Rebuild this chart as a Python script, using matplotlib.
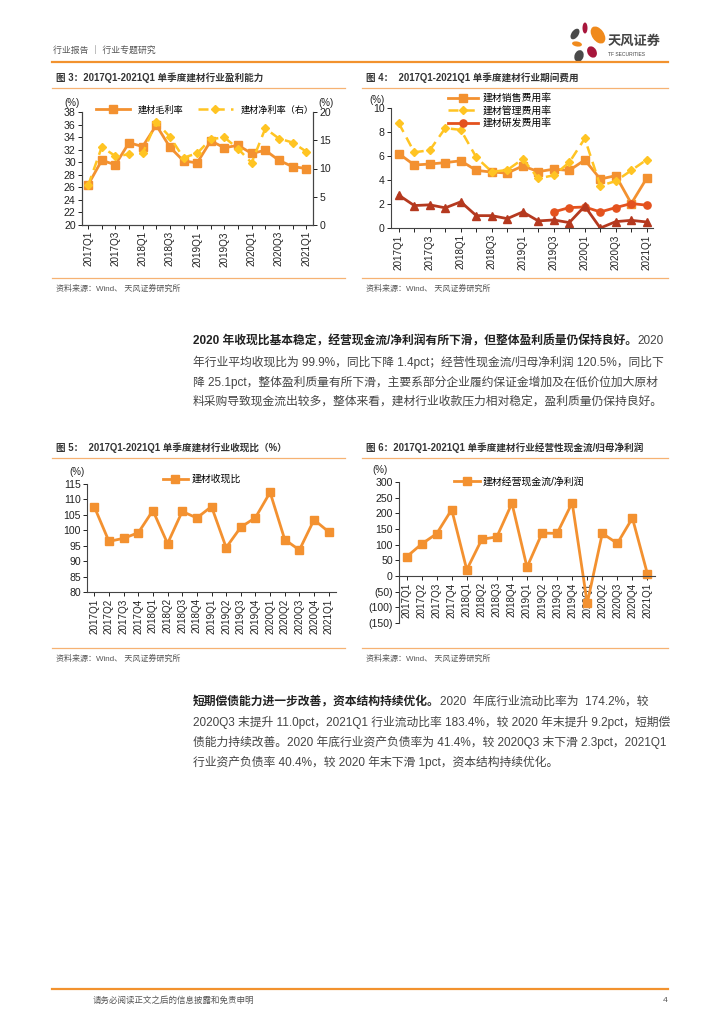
import numpy as np
import matplotlib
matplotlib.use("Agg")
import matplotlib.pyplot as plt
from matplotlib.patches import Ellipse
from matplotlib.ticker import FuncFormatter

plt.rcParams['font.family'] = ['Liberation Sans', 'Noto Sans CJK SC', 'DejaVu Sans']

W, H = 724, 1024

# ---- data ----
quarters = ['2017Q1', '2017Q2', '2017Q3', '2017Q4', '2018Q1', '2018Q2', '2018Q3', '2018Q4',
            '2019Q1', '2019Q2', '2019Q3', '2019Q4', '2020Q1', '2020Q2', '2020Q3', '2020Q4', '2021Q1']

gross_margin = [26.4, 30.3, 29.6, 33.1, 32.5, 35.9, 32.4, 30.2, 29.9, 33.4, 32.3, 32.7,
                31.4, 31.9, 30.3, 29.3, 29.0]
net_margin = [7.0, 13.8, 12.2, 12.5, 12.7, 18.2, 15.6, 11.9, 12.7, 15.2, 15.5, 13.5,
              11.0, 17.1, 15.3, 14.6, 13.0]

sales_exp = [6.2, 5.25, 5.33, 5.45, 5.6, 4.8, 4.66, 4.58, 5.17, 4.7, 4.9, 4.8,
             5.67, 4.08, 4.36, 2.04, 4.16]
admin_exp = [8.74, 6.31, 6.48, 8.32, 8.18, 5.89, 4.69, 4.83, 5.75, 4.13, 4.39, 5.47,
             7.46, 3.52, 3.91, 4.8, 5.7]
rd_exp = [np.nan] * 10 + [1.34, 1.7, 1.75, 1.34, 1.7, 2.04, 1.9]
fin_exp = [2.74, 1.87, 1.93, 1.68, 2.18, 1.03, 1.03, 0.78, 1.34, 0.59, 0.67, 0.45,
           1.82, 0.0, 0.53, 0.64, 0.5]

cash_ratio = [107.6, 96.4, 97.4, 99.2, 106.4, 95.7, 106.1, 104.0, 107.7, 94.4, 101.0, 104.1,
              112.3, 97.0, 93.6, 103.4, 99.5]
ocf_ratio = [61, 102, 135, 212, 20, 117, 125, 232, 28, 137, 136, 234,
             -87, 136, 104, 185, 6]

ORANGE = '#F39130'
GOLD = '#FFC423'
RED = '#E4521E'
DARKRED = '#B5391F'
RULE = '#F2922E'
TXT = '#333333'

fig = plt.figure(figsize=(W / 100, H / 100), dpi=100)

# page overlay in pixel coords
bg = fig.add_axes([0, 0, 1, 1])
bg.set_xlim(0, W)
bg.set_ylim(H, 0)
bg.axis('off')


def add_ax(l, t, r, b):
    return fig.add_axes([l / W, 1 - b / H, (r - l) / W, (b - t) / H])


def style(ax, spines=('left', 'bottom')):
    for s in ['left', 'right', 'top', 'bottom']:
        ax.spines[s].set_visible(s in spines)
        ax.spines[s].set_color('#444444')
        ax.spines[s].set_linewidth(0.8)
    ax.tick_params(labelsize=7.6, length=3, width=0.7, colors='#222222', pad=1.5)
    ax.patch.set_alpha(0)


def xlabels(ax, every):
    ax.set_xticks(range(len(quarters)))
    ax.set_xticklabels([q if i % every == 0 else '' for i, q in enumerate(quarters)],
                       rotation=90, fontsize=7.1)


# ---- header ----
bg.text(53, 51, '行业报告 ｜ 行业专题研究', fontsize=6.4, color='#555555', va='center')
bg.plot([52, 668], [61.5, 61.5], color=RULE, lw=1.6)
# logo petals
for (cx, cy, w, h, a, c) in [(585, 28, 5, 11, 0, '#A8163C'), (598, 35, 12, 19, -35, '#F08A1C'),
                             (575, 34, 7, 12, 35, '#4A4A4A'), (577, 44, 10, 5, 10, '#F08A1C'),
                             (592, 52, 9, 12, -30, '#A8163C'), (579, 56, 9, 12, 20, '#4A4A4A')]:
    bg.add_patch(Ellipse((cx, cy), w, h, angle=a, color=c, lw=0))
bg.text(608, 42, '天风证券', fontsize=9.5, color='#444444', va='center', fontweight='bold')
bg.text(608, 55, 'TF SECURITIES', fontsize=3.6, color='#444444', va='center')

# ---- chart titles, rules, sources ----
for x0, x1, ty, title in [(52, 345, 78, '图 3：2017Q1-2021Q1 单季度建材行业盈利能力'),
                          (362, 668, 78, '图 4：  2017Q1-2021Q1 单季度建材行业期间费用'),
                          (52, 345, 448, '图 5：  2017Q1-2021Q1 单季度建材行业收现比（%）'),
                          (362, 668, 448, '图 6：2017Q1-2021Q1 单季度建材行业经营性现金流/归母净利润')]:
    bg.text(x0 + 4, ty, title, fontsize=6.9, color=TXT, fontweight='bold', va='center')
    bg.plot([x0, x1], [ty + 10, ty + 10], color='#F6B273', lw=0.9)
    bb = ty + 200
    bg.plot([x0, x1], [bb, bb], color='#F6B273', lw=0.9)
    bg.text(x0 + 4, bb + 11, '资料来源：Wind、 天风证券研究所', fontsize=5.8, color='#555555', va='center')

# ---- chart 1 ----
ax1 = add_ax(82, 112, 313, 225)
style(ax1, ('left', 'bottom', 'right'))
ax1r = ax1.twinx()
style(ax1r, ('left', 'bottom', 'right'))
x = np.arange(len(quarters))
ax1.plot(x, gross_margin, color=ORANGE, lw=2, marker='s', ms=5.8, label='建材毛利率')
ax1r.plot(x, net_margin, color=GOLD, lw=1.8, ls=(0, (4, 2.5)), marker='D', ms=4.2, label='建材净利率（右）')
ax1.set_ylim(20, 38)
ax1.set_yticks(range(20, 39, 2))
ax1r.set_ylim(0, 20)
ax1r.set_yticks(range(0, 21, 5))
ax1.set_xlim(-0.45, 16.5)
xlabels(ax1, 2)
h1, l1 = ax1.get_legend_handles_labels()
h2, l2 = ax1r.get_legend_handles_labels()
ax1r.legend(h1 + h2, l1 + l2, loc='center', bbox_to_anchor=(0.53, 1.02), ncol=2, frameon=False,
            fontsize=6.6, handlelength=3.8, columnspacing=1.6, borderpad=0)
bg.text(64, 103, '(%)', fontsize=7, color='#222222', va='center')
bg.text(318, 103, '(%)', fontsize=7, color='#222222', va='center')

# ---- chart 2 ----
ax2 = add_ax(391, 108, 653, 228)
style(ax2)
ax2.plot(x, sales_exp, color=ORANGE, lw=2, marker='s', ms=5.8, label='建材销售费用率')
ax2.plot(x, admin_exp, color=GOLD, lw=1.8, ls=(0, (4, 2.5)), marker='D', ms=4.2, label='建材管理费用率')
ax2.plot(x, rd_exp, color=RED, lw=2, marker='o', ms=5.2, label='建材研发费用率')
ax2.plot(x, fin_exp, color=DARKRED, lw=2, marker='^', ms=5.2, label='_nolegend_')
ax2.set_ylim(0, 10)
ax2.set_yticks(range(0, 11, 2))
ax2.set_xlim(-0.5, 16.4)
xlabels(ax2, 2)
ax2.legend(loc='upper left', bbox_to_anchor=(0.2, 1.165), frameon=False, fontsize=7.1,
           handlelength=3.0, labelspacing=0.25, borderpad=0, handletextpad=0.5)
bg.text(369, 100, '(%)', fontsize=7, color='#222222', va='center')

# ---- paragraph 1 ----
renderer = fig.canvas.get_renderer()


def para_line(y, bold, rest):
    xpos = 193
    if bold:
        t = bg.text(xpos, y, bold, fontsize=8.5, color='#222222', fontweight='bold', va='center')
        ext = t.get_window_extent(renderer)
        xpos += ext.width
    bg.text(xpos, y, rest, fontsize=8.5, color='#444444', va='center')


para_line(341, '2020 年收现比基本稳定，经营现金流/净利润有所下滑，但整体盈利质量仍保持良好。', '2020')
para_line(362, '', '年行业平均收现比为 99.9%，同比下降 1.4pct；经营性现金流/归母净利润 120.5%，同比下')
para_line(382, '', '降 25.1pct，整体盈利质量有所下滑，主要系部分企业履约保证金增加及在低价位加大原材')
para_line(402, '', '料采购导致现金流出较多，整体来看，建材行业收款压力相对稳定，盈利质量仍保持良好。')

# ---- chart 3 ----
ax3 = add_ax(87, 484, 336, 592)
style(ax3)
ax3.plot(x, cash_ratio, color=ORANGE, lw=2, marker='s', ms=6.2, label='建材收现比')
ax3.set_ylim(80, 115)
ax3.set_yticks(range(80, 116, 5))
ax3.set_xlim(-0.5, 16.5)
xlabels(ax3, 1)
ax3.legend(loc='center', bbox_to_anchor=(0.46, 1.045), frameon=False, fontsize=7.1,
           handlelength=2.6, borderpad=0, handletextpad=0.3)
bg.text(69, 472, '(%)', fontsize=7, color='#222222', va='center')

# ---- chart 4 ----
ax4 = add_ax(399, 482, 655, 623)
style(ax4)
ax4.spines['bottom'].set_position(('data', 0))
ax4.plot(x, ocf_ratio, color=ORANGE, lw=2, marker='s', ms=6.2, label='建材经营现金流/净利润')
ax4.set_ylim(-150, 300)
ax4.set_yticks(range(-150, 301, 50))
ax4.yaxis.set_major_formatter(FuncFormatter(lambda v, p: f'({int(-v)})' if v < 0 else f'{int(v)}'))
ax4.set_xlim(-0.5, 16.5)
xlabels(ax4, 1)
ax4.legend(loc='center', bbox_to_anchor=(0.47, 1.005), frameon=False, fontsize=7.1,
           handlelength=2.6, borderpad=0, handletextpad=0.3)
bg.text(372, 470, '(%)', fontsize=7, color='#222222', va='center')

# ---- paragraph 2 ----
para_line(702, '短期偿债能力进一步改善，资本结构持续优化。', '2020  年底行业流动比率为  174.2%，较')
para_line(722, '', '2020Q3 末提升 11.0pct，2021Q1 行业流动比率 183.4%，较 2020 年末提升 9.2pct，短期偿')
para_line(742, '', '债能力持续改善。2020 年底行业资产负债率为 41.4%，较 2020Q3 末下滑 2.3pct，2021Q1')
para_line(762, '', '行业资产负债率 40.4%，较 2020 年末下滑 1pct，资本结构持续优化。')

# ---- footer ----
bg.plot([52, 668], [989, 989], color=RULE, lw=1.6)
bg.text(93, 1001, '请务必阅读正文之后的信息披露和免责申明', fontsize=6.1, color='#555555', va='center')
bg.text(668, 1001, '4', fontsize=6.1, color='#555555', va='center', ha='right')

fig.savefig('out.png', dpi=100)
